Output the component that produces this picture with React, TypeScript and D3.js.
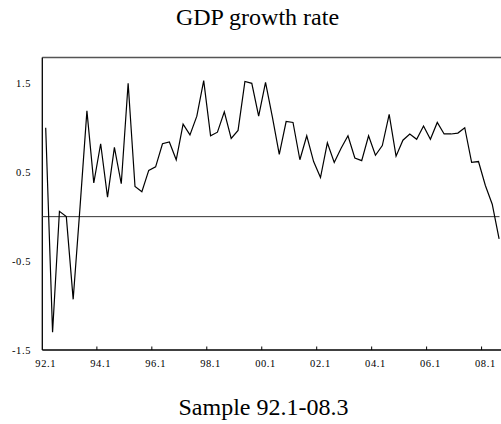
import React from "react";
import * as d3 from "d3";

const title = "GDP growth rate";
const caption = "Sample 92.1-08.3";

// Quarterly GDP growth rate, 92.1 .. 08.3 (67 quarters)
const growth: number[] = [
  1.0, -1.3, 0.06, 0.0, -0.93, 0.11, 1.19, 0.38, 0.82, 0.22,
  0.78, 0.37, 1.5, 0.34, 0.28, 0.52, 0.56, 0.82, 0.84, 0.64,
  1.04, 0.92, 1.13, 1.53, 0.91, 0.95, 1.18, 0.88, 0.97, 1.52,
  1.5, 1.13, 1.51, 1.12, 0.7, 1.07, 1.06, 0.64, 0.91, 0.62,
  0.44, 0.83, 0.61, 0.77, 0.91, 0.66, 0.63, 0.91, 0.69, 0.8,
  1.15, 0.68, 0.86, 0.93, 0.87, 1.02, 0.87, 1.06, 0.93, 0.93,
  0.94, 1.0, 0.61, 0.62, 0.35, 0.14, -0.25,
];

const xTickLabels = ["92.1", "94.1", "96.1", "98.1", "00.1", "02.1", "04.1", "06.1", "08.1"];
const yTickValues = [1.5, 0.5, -0.5, -1.5];
const yTickLabels = ["1.5", "0.5", "-0.5", "-1.5"];

const W = 501;
const H = 424;
const axisLeft = 42.3;
const axisBottom = 350;

export default function App() {
  const x = d3.scaleLinear().domain([0, growth.length - 1]).range([45.7, 499.1]);
  const y = d3.scaleLinear().domain([-1.5, 1.5]).range([350, 83.3]);
  const topY = y(1.79);

  const line = d3
    .line<number>()
    .x((_, i) => x(i))
    .y((d) => y(d));

  const font = "'Liberation Serif', 'Times New Roman', serif";

  return (
    <svg
      width={W}
      height={H}
      style={{ position: "absolute", left: 0, top: 0, background: "#fff" }}
      fontFamily={font}
    >
      <rect x={0} y={0} width={W} height={H} fill="#fff" />
      <text x={257.5} y={25} textAnchor="middle" fontSize={24} fill="#000">
        {title}
      </text>

      {/* frame */}
      <line x1={axisLeft} x2={W} y1={topY} y2={topY} stroke="#555" strokeWidth={1.4} />
      <line x1={axisLeft} x2={axisLeft} y1={topY} y2={axisBottom} stroke="#000" strokeWidth={1.3} />
      <line x1={axisLeft} x2={W} y1={axisBottom} y2={axisBottom} stroke="#000" strokeWidth={1.3} />
      <line x1={axisLeft} x2={499.5} y1={y(0)} y2={y(0)} stroke="#333" strokeWidth={1} />

      {/* y labels */}
      {yTickValues.map((v, i) => (
        <text
          key={"y" + i}
          x={31}
          y={y(v)}
          dy="0.35em"
          textAnchor="end"
          fontSize={10.5}
          letterSpacing={0.6}
          fill="#000"
        >
          {yTickLabels[i]}
        </text>
      ))}

      {/* x ticks and labels */}
      {xTickLabels.map((lab, i) => (
        <g key={"x" + i}>
          {i > 0 && (
            <line
              x1={x(8 * i - 0.55)}
              x2={x(8 * i - 0.55)}
              y1={axisBottom}
              y2={axisBottom - 3.5}
              stroke="#000"
              strokeWidth={1}
            />
          )}
          <text
            x={x(8 * i)}
            y={367}
            textAnchor="middle"
            fontSize={10.5}
            letterSpacing={0.6}
            fill="#000"
          >
            {lab}
          </text>
        </g>
      ))}

      <path d={line(growth) ?? ""} fill="none" stroke="#000" strokeWidth={1.2} strokeLinejoin="miter" />

      <text x={263.5} y={415} textAnchor="middle" fontSize={24} fill="#000">
        {caption}
      </text>
    </svg>
  );
}
